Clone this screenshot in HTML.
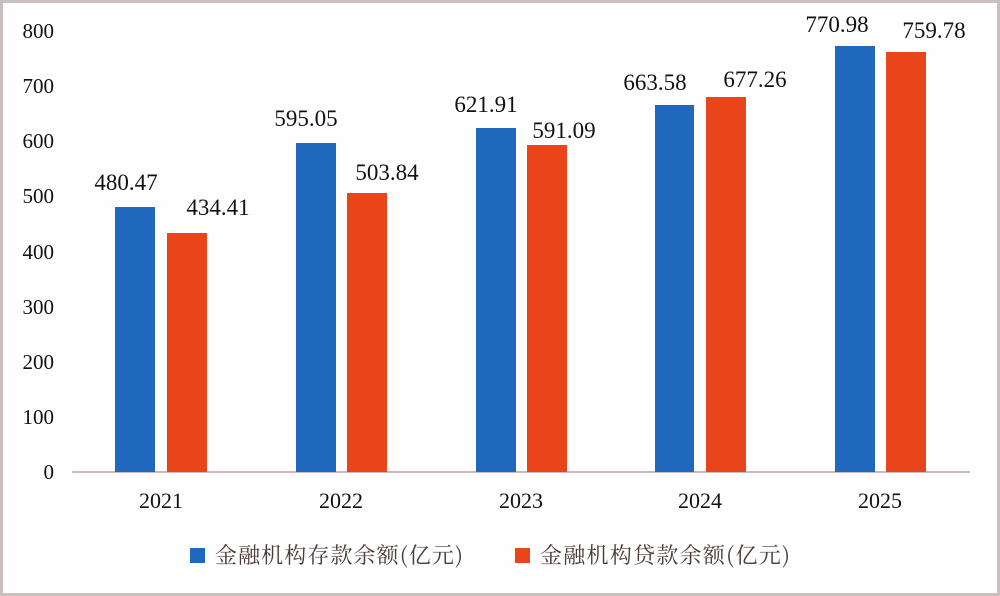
<!DOCTYPE html><html><head><style>body{margin:0;background:#fff}svg{display:block}</style></head><body>
<svg width="1000" height="596" xmlns="http://www.w3.org/2000/svg" font-family="Liberation Serif, serif">
<rect x="1.5" y="1.5" width="997" height="593" fill="#fffefe" stroke="#c9bfbf" stroke-width="3"/>
<g font-size="21" fill="#111" text-anchor="end">
<text x="54" y="479">0</text><text x="54" y="424">100</text><text x="54" y="369">200</text><text x="54" y="314">300</text><text x="54" y="259">400</text><text x="54" y="203">500</text><text x="54" y="148">600</text><text x="54" y="93">700</text><text x="54" y="38">800</text>
</g>
<line x1="72" y1="472" x2="970" y2="472" stroke="#c8b8b8" stroke-width="2"/>
<g fill="#1f68bd">
<rect x="115" y="207" width="40" height="265"/><rect x="296" y="143" width="40" height="329"/><rect x="476" y="128" width="40" height="344"/><rect x="655" y="105" width="39" height="367"/><rect x="835" y="46" width="40" height="426"/>
</g>
<g fill="#e8461a">
<rect x="167" y="233" width="40" height="239"/><rect x="347" y="193" width="40" height="279"/><rect x="527" y="145" width="40" height="327"/><rect x="706" y="97" width="40" height="375"/><rect x="886" y="52" width="40" height="420"/>
</g>
<g font-size="23" fill="#111" text-anchor="middle">
<text x="126" y="190">480.47</text><text x="218" y="215">434.41</text>
<text x="306" y="126">595.05</text><text x="387" y="180">503.84</text>
<text x="486" y="112">621.91</text><text x="564" y="138">591.09</text>
<text x="655" y="90">663.58</text><text x="755" y="87">677.26</text>
<text x="837" y="32">770.98</text><text x="934" y="38">759.78</text>
</g>
<g font-size="22" fill="#111" text-anchor="middle">
<text x="161" y="508">2021</text><text x="341" y="508">2022</text><text x="521" y="508">2023</text><text x="700" y="508">2024</text><text x="880" y="508">2025</text>
</g>
<rect x="190" y="548" width="15" height="15" fill="#1f68bd"/>
<rect x="515" y="548" width="15" height="15" fill="#e8461a"/>
<g font-size="22" fill="#4a3a3a" font-family="Noto Serif CJK SC, serif">
<text x="215" y="563" textLength="248">金融机构存款余额(亿元)</text>
<text x="540" y="563" textLength="250">金融机构贷款余额(亿元)</text>
</g>
</svg></body></html>
